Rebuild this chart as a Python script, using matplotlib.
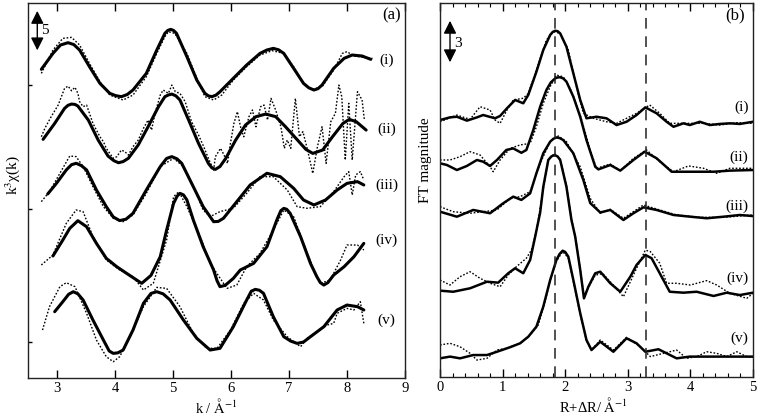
import numpy as np
import matplotlib
matplotlib.use('Agg')
import matplotlib.pyplot as plt

plt.rcParams['font.family'] = ['Liberation Serif', 'DejaVu Serif']
plt.rcParams['mathtext.fontset'] = 'stix'
plt.rcParams['font.size'] = 11

# ---- panel (a): k^3 chi(k), fit (solid) and experiment (dotted), offset per sample
k_a1_fit = [2.73, 2.93, 3.06, 3.19, 3.29, 3.39, 3.56, 3.74, 3.91, 4.01, 4.11, 4.21, 4.31, 4.54, 4.72, 4.86, 4.91,
            4.96, 5.01, 5.06, 5.24, 5.41, 5.55, 5.61, 5.67, 5.74, 5.81, 6.04, 6.27, 6.50, 6.62, 6.73, 6.82, 6.91,
            7.08, 7.25, 7.34, 7.43, 7.50, 7.57, 7.77, 7.95, 8.09, 8.26, 8.41]
y_a1_fit = [34.3, 36.07, 37.0, 37.26, 37.05, 36.44, 34.59, 32.74, 31.63, 31.38, 31.26, 31.5, 32.0, 33.85, 36.44, 38.3,
            38.62, 38.74, 38.62, 38.3, 35.7, 33.11, 31.63, 31.35, 31.26, 31.43, 31.81, 33.3, 34.78, 36.07, 36.45,
            36.63, 36.47, 36.07, 34.41, 32.74, 32.25, 32.0, 32.15, 32.56, 34.41, 35.52, 35.89, 35.78, 35.41]
k_a1_exp = [2.73, 2.93, 3.10, 3.25, 3.39, 3.56, 3.74, 3.91, 4.14, 4.31, 4.54, 4.72, 4.86, 4.92, 5.03, 5.24, 5.41,
            5.55, 5.70, 5.84, 6.04, 6.27, 6.50, 6.71, 6.91, 7.08, 7.25, 7.40, 7.57, 7.77, 7.92, 8.00, 8.12, 8.29, 8.44]
y_a1_exp = [33.85, 36.44, 37.74, 37.85, 37.0, 34.96, 32.93, 31.44, 30.89, 31.44, 33.48, 36.07, 37.93, 38.48, 38.3, 36.07, 33.3,
            31.26, 30.89, 31.44, 33.11, 34.59, 35.89, 36.37, 36.07, 34.59, 32.74, 32.07, 32.37, 34.22, 36.07, 36.26, 35.78, 35.63, 35.52]

k_a2_fit = [2.76, 2.96, 3.13, 3.19, 3.25, 3.31, 3.36, 3.54, 3.71, 3.88, 3.98, 4.06, 4.14, 4.23, 4.40, 4.57, 4.75,
            4.86, 4.92, 4.98, 5.05, 5.12, 5.27, 5.44, 5.61, 5.67, 5.73, 5.81, 5.91, 6.08, 6.25, 6.43, 6.60, 6.77,
            6.94, 7.12, 7.29, 7.41, 7.58, 7.75, 7.93, 8.04, 8.16, 8.33]
y_a2_fit = [26.52, 28.29, 29.96, 30.3, 30.44, 30.4, 30.22, 28.66, 26.44, 24.66, 24.15, 23.92, 24.05, 24.41, 25.89,
            27.92, 30.15, 31.26, 31.45, 31.55, 31.35, 30.89, 28.66, 26.07, 23.85, 23.35, 23.18, 23.5, 24.41, 26.44,
            28.11, 29.04, 29.33, 29.04, 27.92, 26.63, 25.41, 24.96, 25.33, 26.81, 28.29, 28.74, 28.48, 27.55]
k_a2_exp = [2.73, 2.79, 2.90, 3.02, 3.13, 3.19, 3.25, 3.31, 3.36, 3.39, 3.45, 3.51, 3.56, 3.62, 3.68, 3.74, 3.80, 3.85,
            3.91, 3.97, 4.03, 4.11, 4.17, 4.23, 4.31, 4.40, 4.49, 4.57, 4.63, 4.69, 4.78, 4.83, 4.92, 4.98, 5.04, 5.12,
            5.21, 5.32, 5.44, 5.53, 5.61, 5.70, 5.73, 5.82, 5.88, 5.94, 5.99, 6.05, 6.11, 6.17, 6.22, 6.31, 6.37, 6.43,
            6.51, 6.57, 6.63, 6.69, 6.77, 6.86, 6.92, 6.97, 7.03, 7.11, 7.18, 7.24, 7.32, 7.41, 7.49, 7.57, 7.64, 7.72,
            7.80, 7.86, 7.91, 7.97, 8.03, 8.09, 8.18, 8.26, 8.30]
y_a2_exp = [26.81, 27.74, 29.04, 30.33, 32.18, 32.44, 31.92, 32.3, 31.63, 30.7, 30.15, 30.33, 29.41, 28.29, 27.55, 26.81,
            26.26, 25.52, 24.96, 24.41, 24.59, 25.33, 25.15, 24.78, 25.7, 26.44, 27.74, 28.66, 27.55, 29.41, 31.44, 32.0,
            31.63, 32.55, 31.81, 31.63, 30.7, 28.48, 27.0, 25.7, 24.41, 23.11, 24.59, 25.52, 24.78, 23.85, 26.07, 28.29,
            29.59, 27.74, 26.81, 29.04, 29.78, 27.92, 30.15, 30.33, 28.66, 31.07, 29.78, 27.92, 25.52, 26.44, 25.52,
            31.07, 26.81, 27.37, 25.33, 22.74, 25.7, 27.92, 23.85, 28.48, 29.41, 32.55, 31.26, 24.22, 30.52, 24.22,
            31.81, 30.89, 28.66]

k_a3_fit = [2.84, 2.99, 3.16, 3.25, 3.33, 3.42, 3.51, 3.68, 3.85, 3.97, 4.08, 4.19, 4.31, 4.54, 4.78, 4.89, 4.98,
            5.07, 5.15, 5.35, 5.52, 5.70, 5.78, 5.87, 6.10, 6.33, 6.62, 6.85, 7.08, 7.25, 7.43, 7.63, 7.83, 8.00,
            8.18, 8.29]
y_a3_fit = [20.45, 21.63, 23.12, 23.7, 23.86, 23.6, 23.12, 20.89, 19.04, 17.9, 17.49, 17.65, 18.3, 20.89, 23.49,
            24.4, 24.6, 24.35, 23.86, 21.26, 19.04, 17.37, 17.4, 17.75, 19.6, 21.45, 22.75, 22.37, 21.08, 19.78,
            19.23, 19.78, 20.89, 21.63, 21.82, 21.45]
k_a3_exp = [2.73, 2.87, 3.05, 3.22, 3.33, 3.45, 3.62, 3.80, 3.97, 4.14, 4.31, 4.54, 4.78, 5.01, 5.18, 5.35, 5.52,
            5.64, 5.81, 6.04, 6.27, 6.50, 6.73, 6.97, 7.14, 7.31, 7.54, 7.77, 7.95, 8.03, 8.09, 8.15, 8.23, 8.29]
y_a3_exp = [19.6, 20.71, 22.75, 24.67, 24.6, 23.49, 21.26, 19.04, 17.75, 17.37, 18.12, 20.52, 23.49, 24.41, 23.49,
            21.26, 18.67, 17.93, 18.49, 18.86, 20.52, 22.37, 22.37, 20.89, 19.04, 18.86, 19.04, 20.71, 22.37, 22.93,
            20.34, 22.56, 22.93, 22.0]

k_a4_fit = [2.93, 3.10, 3.22, 3.36, 3.51, 3.68, 3.85, 4.03, 4.20, 4.46, 4.62, 4.78, 4.89, 5.01, 5.07, 5.12, 5.18,
            5.24, 5.35, 5.52, 5.70, 5.76, 5.81, 5.90, 6.04, 6.16, 6.39, 6.62, 6.79, 6.86, 6.91, 6.96, 7.02, 7.20,
            7.37, 7.48, 7.54, 7.60, 7.67, 7.77, 7.95, 8.12, 8.29]
y_a4_fit = [13.56, 15.33, 16.63, 17.48, 16.81, 14.96, 13.3, 12.37, 11.63, 10.52, 11.4, 13.48, 16.44, 19.41, 20.2,
            20.52, 20.35, 19.78, 17.56, 14.59, 12.0, 10.8, 10.15, 10.3, 11.07, 12.0, 12.74, 14.59, 17.56, 18.6,
            18.85, 18.75, 18.3, 15.7, 12.74, 11.26, 10.6, 10.33, 10.6, 11.44, 12.37, 13.48, 14.96]
k_a4_exp = [2.73, 2.93, 3.16, 3.33, 3.45, 3.62, 3.85, 4.08, 4.31, 4.49, 4.66, 4.89, 5.01, 5.10, 5.24, 5.47, 5.64,
            5.93, 6.10, 6.27, 6.50, 6.73, 6.91, 7.08, 7.25, 7.43, 7.54, 7.71, 7.89, 8.00, 8.18, 8.29]
y_a4_exp = [12.56, 13.67, 17.19, 18.67, 18.48, 15.7, 13.11, 12.0, 11.26, 9.78, 10.52, 15.33, 20.15, 20.7, 19.04,
            15.7, 12.74, 9.96, 10.33, 12.37, 13.85, 16.44, 18.67, 17.93, 14.96, 12.0, 10.52, 10.89, 13.11, 14.78,
            14.78, 14.22]

k_a5_fit = [2.96, 3.10, 3.20, 3.28, 3.36, 3.45, 3.62, 3.80, 3.90, 3.97, 4.05, 4.14, 4.31, 4.49, 4.62, 4.72, 4.83,
            4.95, 5.18, 5.41, 5.64, 5.81, 6.04, 6.27, 6.35, 6.42, 6.49, 6.56, 6.73, 6.91, 7.03, 7.14, 7.25, 7.37,
            7.60, 7.83, 8.00, 8.18, 8.29]
y_a5_fit = [7.37, 8.48, 9.3, 9.59, 9.35, 8.67, 6.44, 4.22, 3.0, 2.74, 2.8, 3.11, 5.33, 8.3, 9.4, 9.59, 9.35, 8.67,
            6.44, 4.41, 3.11, 3.3, 5.7, 8.67, 9.65, 9.85, 9.75, 9.41, 6.81, 4.59, 4.1, 3.85, 4.0, 4.59, 5.7, 7.56,
            8.11, 7.93, 7.56]
k_a5_exp = [2.75, 2.87, 3.05, 3.16, 3.31, 3.51, 3.68, 3.85, 3.97, 4.08, 4.26, 4.49, 4.72, 4.89, 5.12, 5.35, 5.58,
            5.76, 5.99, 6.22, 6.39, 6.56, 6.73, 6.97, 7.08, 7.20, 7.31, 7.48, 7.66, 7.77, 7.83, 8.00, 8.12, 8.23, 8.29]
y_a5_exp = [5.33, 7.93, 10.15, 10.59, 10.15, 7.19, 4.22, 2.37, 1.81, 2.37, 4.59, 7.93, 10.07, 9.96, 7.93, 4.96, 3.3,
            3.3, 5.33, 8.3, 9.41, 8.67, 6.44, 4.59, 4.04, 3.48, 4.41, 5.15, 5.89, 6.07, 7.19, 7.74, 7.56, 8.48, 6.07]

# ---- panel (b): FT magnitude, fit (solid) and experiment (dotted)
r_b1_fit = [0.0, 0.16, 0.27, 0.43, 0.59, 0.69, 0.88, 0.96, 1.07, 1.20, 1.33, 1.41, 1.54, 1.65, 1.76, 1.80, 1.84,
            1.88, 1.92, 2.02, 2.13, 2.24, 2.34, 2.50, 2.66, 2.82, 2.98, 3.14, 3.28, 3.46, 3.62, 3.73, 3.89, 3.99,
            4.15, 4.31, 4.47, 4.63, 4.79, 5.0]
y_b1_fit = [16.4, 16.57, 16.61, 16.36, 16.57, 16.72, 16.51, 16.66, 17.15, 17.68, 17.47, 18.0, 19.48, 20.87, 21.83,
            22.02, 22.1, 22.07, 21.93, 21.08, 19.38, 17.68, 16.51, 16.61, 16.51, 16.08, 16.29, 16.72, 17.21, 16.83,
            16.29, 15.97, 16.19, 16.08, 16.29, 16.08, 16.15, 16.19, 16.15, 16.29]
r_b1_exp = [0.0, 0.27, 0.48, 0.64, 0.80, 0.88, 0.96, 1.07, 1.17, 1.33, 1.41, 1.54, 1.70, 1.81, 1.92, 2.05, 2.18,
            2.29, 2.45, 2.66, 2.82, 3.14, 3.35, 3.51, 3.67, 3.94, 4.20, 4.47, 4.74, 5.0]
y_b1_exp = [16.29, 16.72, 16.44, 17.25, 17.04, 16.4, 16.19, 17.04, 17.68, 17.79, 18.1, 19.59, 21.51, 22.04, 21.93,
            20.87, 18.53, 16.83, 16.51, 16.29, 16.19, 16.83, 17.36, 16.83, 16.19, 16.19, 16.19, 16.08, 16.23, 16.19]

r_b2_fit = [0.0, 0.11, 0.27, 0.43, 0.59, 0.69, 0.80, 0.91, 1.06, 1.17, 1.30, 1.38, 1.49, 1.60, 1.70, 1.77, 1.84,
            1.88, 1.92, 1.97, 2.02, 2.13, 2.24, 2.34, 2.48, 2.53, 2.72, 2.88, 3.09, 3.27, 3.46, 3.70, 4.10, 4.37,
            4.63, 5.0]
y_b2_fit = [13.64, 13.53, 13.21, 13.47, 13.85, 13.74, 13.47, 13.85, 14.49, 14.59, 14.31, 14.49, 15.76, 17.25, 18.32,
            18.8, 19.06, 19.12, 19.13, 19.05, 18.85, 17.89, 16.61, 15.12, 13.42, 13.25, 13.53, 13.17, 13.85, 14.38,
            13.96, 13.1, 13.1, 13.1, 13.17, 13.21]
r_b2_exp = [0.0, 0.16, 0.32, 0.48, 0.64, 0.80, 0.85, 0.96, 1.12, 1.28, 1.44, 1.54, 1.65, 1.76, 1.86, 1.97, 2.08,
            2.24, 2.40, 2.50, 2.72, 2.88, 3.09, 3.30, 3.51, 3.73, 3.97, 4.21, 4.42, 4.63, 5.0]
y_b2_exp = [13.85, 13.85, 14.06, 14.38, 14.17, 13.42, 13.1, 13.85, 14.59, 14.81, 14.91, 15.97, 17.47, 18.53, 19.27,
            19.16, 18.42, 16.72, 14.49, 13.32, 13.59, 13.17, 13.96, 14.49, 13.74, 13.1, 13.47, 13.32, 13.0, 13.32, 13.32]

r_b3_fit = [0.0, 0.27, 0.53, 0.80, 1.01, 1.17, 1.30, 1.44, 1.54, 1.65, 1.76, 1.81, 1.86, 1.91, 1.97, 2.13, 2.29,
            2.40, 2.56, 2.72, 2.93, 3.09, 3.25, 3.46, 3.73, 4.0, 4.26, 4.53, 4.79, 5.0]
y_b3_fit = [10.55, 10.23, 10.66, 10.45, 11.09, 11.51, 11.3, 11.72, 13.0, 14.28, 15.02, 15.2, 15.29, 15.25, 15.12,
            14.28, 12.57, 11.1, 10.5, 10.66, 10.02, 10.45, 10.83, 10.66, 10.34, 10.23, 10.13, 10.23, 10.34, 10.27]
r_b3_exp = [0.0, 0.21, 0.48, 0.69, 0.91, 1.12, 1.28, 1.44, 1.60, 1.76, 1.89, 2.02, 2.24, 2.40, 2.56, 2.72, 2.93,
            3.25, 3.51, 3.78, 4.15, 4.53, 5.0]
y_b3_exp = [10.87, 10.55, 10.45, 10.55, 10.66, 11.4, 11.51, 11.83, 13.64, 15.02, 15.38, 15.02, 13.42, 11.4, 10.45,
            10.7, 10.13, 10.98, 10.66, 10.34, 10.19, 10.19, 10.34]

r_b4_fit = [0.0, 0.21, 0.48, 0.75, 0.93, 1.09, 1.20, 1.33, 1.44, 1.52, 1.60, 1.65, 1.73, 1.78, 1.83, 1.88, 1.92,
            2.02, 2.10, 2.16, 2.24, 2.30, 2.37, 2.48, 2.56, 2.72, 2.88, 3.04, 3.14, 3.28, 3.38, 3.51, 3.67, 3.89,
            4.10, 4.37, 4.58, 4.79, 5.0]
y_b4_fit = [5.51, 5.44, 5.66, 6.08, 6.02, 6.62, 6.94, 6.62, 7.47, 8.95, 10.5, 12.14, 13.85, 14.08, 14.17, 14.07,
            13.85, 12.14, 10.02, 8.95, 6.83, 5.02, 5.76, 6.62, 6.72, 5.98, 5.44, 6.4, 7.15, 7.79, 7.58, 6.62, 5.44,
            5.38, 5.44, 5.17, 5.38, 5.23, 5.38]
r_b4_exp = [0.0, 0.16, 0.32, 0.48, 0.64, 0.80, 0.96, 1.09, 1.22, 1.38, 1.46, 1.54, 1.65, 1.73, 1.83, 1.92, 2.02,
            2.10, 2.16, 2.24, 2.30, 2.37, 2.48, 2.60, 2.76, 2.93, 3.09, 3.28, 3.36, 3.51, 3.62, 3.78, 4.0, 4.26,
            4.42, 4.63, 4.90, 5.0]
y_b4_exp = [6.19, 5.87, 6.4, 6.72, 6.3, 5.98, 5.76, 6.51, 7.04, 7.58, 8.1, 9.3, 12.0, 13.9, 14.25, 13.9, 12.2,
            10.1, 9.0, 6.9, 5.1, 5.7, 6.5, 6.6, 5.9, 5.12, 6.51, 8.1, 8.0, 7.26, 5.98, 5.98, 5.87, 6.15, 5.87, 5.34,
            5.02, 5.34]

r_b5_fit = [0.0, 0.16, 0.32, 0.53, 0.75, 0.91, 1.12, 1.28, 1.41, 1.54, 1.65, 1.76, 1.86, 1.91, 1.96, 2.00, 2.05,
            2.13, 2.24, 2.34, 2.42, 2.56, 2.77, 2.98, 3.14, 3.28, 3.49, 3.78, 3.99, 4.53, 5.0]
y_b5_fit = [1.19, 1.3, 1.19, 1.4, 1.4, 1.61, 1.9, 2.15, 2.57, 3.21, 4.49, 6.19, 7.47, 7.85, 8.06, 7.98, 7.68, 6.19,
            4.07, 2.36, 1.72, 2.25, 1.61, 2.47, 2.15, 1.61, 1.77, 1.19, 1.3, 1.3, 1.3]
r_b5_exp = [0.0, 0.16, 0.32, 0.48, 0.59, 0.75, 0.91, 1.06, 1.28, 1.44, 1.57, 1.65, 1.76, 1.86, 1.96, 2.05, 2.13,
            2.24, 2.34, 2.42, 2.56, 2.77, 2.98, 3.20, 3.36, 3.57, 3.78, 3.94, 4.10, 4.26, 4.42, 4.58, 4.74, 4.90, 5.0]
y_b5_exp = [2.04, 2.15, 1.93, 1.51, 1.08, 1.19, 1.72, 1.83, 2.15, 2.68, 3.32, 4.4, 6.1, 7.4, 8.0, 7.6, 6.1, 4.0,
            2.3, 1.72, 2.36, 1.72, 2.53, 1.93, 1.3, 1.51, 1.72, 1.19, 1.3, 1.61, 1.51, 1.3, 1.61, 1.3, 1.26]

labels = ['(i)', '(ii)', '(iii)', '(iv)', '(v)']
label_y_a = [35.3, 27.6, 21.4, 15.3, 6.4]
label_y_b = [17.23, 14.04, 10.91, 6.32, 2.49]
dash_r = [1.83, 3.29]

fig = plt.figure(figsize=(7.59, 4.16), dpi=100)
ax1 = fig.add_axes([0.0369, 0.0913, 0.4967, 0.9015])
ax2 = fig.add_axes([0.5797, 0.0938, 0.4124, 0.899])

fit_kw = dict(color='black', lw=2.2, solid_joinstyle='round', solid_capstyle='round')
exp_kw = dict(color='black', lw=1.0, linestyle=(0, (1.2, 1.3)))

a_fit = [(k_a1_fit, y_a1_fit), (k_a2_fit, y_a2_fit), (k_a3_fit, y_a3_fit), (k_a4_fit, y_a4_fit), (k_a5_fit, y_a5_fit)]
a_exp = [(k_a1_exp, y_a1_exp), (k_a2_exp, y_a2_exp), (k_a3_exp, y_a3_exp), (k_a4_exp, y_a4_exp), (k_a5_exp, y_a5_exp)]
for (kx, ky), (ex, ey) in zip(a_fit, a_exp):
    ax1.plot(ex, ey, **exp_kw)
    ax1.plot(kx, ky, **fit_kw)
for lab, ly in zip(labels, label_y_a):
    ax1.text(8.68, ly, lab, ha='center', va='center', fontsize=11)

ax1.set_xlim(2.5, 9)
ax1.set_ylim(0, 41.67)
ax1.set_xticks(range(3, 10))
ax1.set_yticks([4.0, 18.8, 32.6])
ax1.set_yticklabels([])
ax1.tick_params(axis='x', direction='in', top=True, length=6, width=1, pad=3, labelsize=10.5)
ax1.tick_params(axis='y', direction='in', length=3, width=1)
ax1.text(0.5, -0.075, 'k / $\\mathrm{\\AA}^{-1}$', transform=ax1.transAxes, ha='center', va='center', fontsize=10.5)
ax1.text(-0.042, 0.54, 'k$^3$χ(k)', transform=ax1.transAxes, rotation=90, ha='center', va='center')
ax1.text(8.76, 40.3, '(a)', ha='center', va='center', fontsize=12)
ax1.annotate('', xy=(2.66, 41.1), xytext=(2.66, 36.1),
             arrowprops=dict(arrowstyle='<|-|>,head_length=0.7,head_width=0.35', color='black', lw=1.0))
ax1.text(2.79, 38.6, '5', ha='center', va='center', fontsize=11)

b_fit = [(r_b1_fit, y_b1_fit), (r_b2_fit, y_b2_fit), (r_b3_fit, y_b3_fit), (r_b4_fit, y_b4_fit), (r_b5_fit, y_b5_fit)]
b_exp = [(r_b1_exp, y_b1_exp), (r_b2_exp, y_b2_exp), (r_b3_exp, y_b3_exp), (r_b4_exp, y_b4_exp), (r_b5_exp, y_b5_exp)]
for (rx, ry), (ex, ey) in zip(b_fit, b_exp):
    ax2.plot(ex, ey, **exp_kw)
    ax2.plot(rx, ry, color='black', lw=1.8, solid_joinstyle='round')
for r in dash_r:
    ax2.axvline(r, color='#222222', lw=1.1, linestyle=(0, (7, 5)))
for lab, ly in zip(labels, label_y_b):
    ax2.text(4.93, ly, lab, ha='right', va='center', fontsize=11)

ax2.set_xlim(0, 5)
ax2.set_ylim(0, 23.87)
ax2.set_xticks(range(0, 6))
ax2.set_xticks(np.arange(0, 5.01, 0.2), minor=True)
ax2.set_yticks([])
ax2.tick_params(axis='x', which='major', direction='in', top=True, length=6, width=1, pad=3, labelsize=10.5)
ax2.tick_params(axis='x', which='minor', direction='in', top=True, length=3, width=0.8)
ax2.text(0.49, -0.075, 'R+ΔR/ $\\mathrm{\\AA}^{-1}$', transform=ax2.transAxes, ha='center', va='center', fontsize=10.5)
ax2.text(-0.045, 0.58, 'FT magnitude', transform=ax2.transAxes, rotation=90, ha='center', va='center')
ax2.text(4.71, 23.1, '(b)', ha='center', va='center', fontsize=12)
ax2.annotate('', xy=(0.16, 22.91), xytext=(0.16, 19.91),
             arrowprops=dict(arrowstyle='<|-|>,head_length=0.7,head_width=0.35', color='black', lw=1.0))
ax2.text(0.29, 21.3, '3', ha='center', va='center', fontsize=11)

for ax in (ax1, ax2):
    for s in ax.spines.values():
        s.set_linewidth(1.0)
        s.set_color('#222222')

fig.savefig('out.png', dpi=100)
